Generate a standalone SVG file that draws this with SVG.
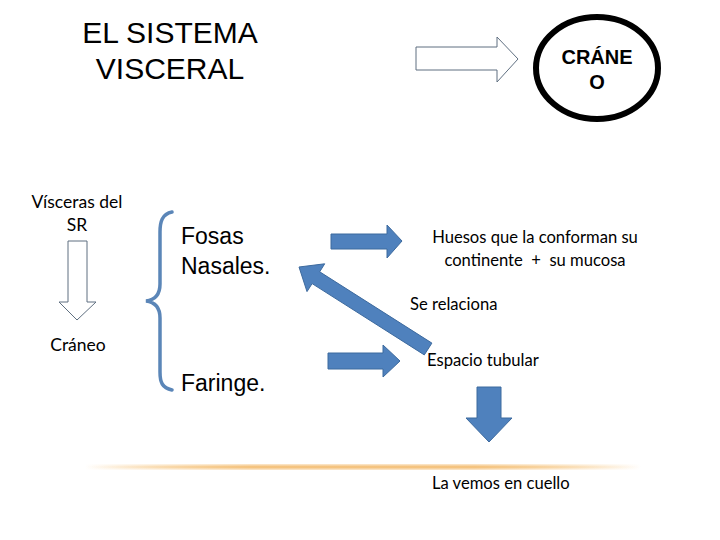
<svg xmlns="http://www.w3.org/2000/svg" width="720" height="540" viewBox="0 0 720 540">
<defs>
<style>
.title{font-family:"Liberation Sans",Arial,sans-serif;font-size:30px;fill:#000;text-anchor:middle}
.big{font-family:"Liberation Sans",Arial,sans-serif;font-size:23px;fill:#000}
.cal{font-family:Lato,"Open Sans",sans-serif;font-size:17.5px;fill:#000}
.sm{font-size:16.6px}
.mid{text-anchor:middle}
.blue{fill:#4f81bd;stroke:#3d6a9e;stroke-width:1}
.outline{fill:#fff;stroke:#5f6f80;stroke-width:1}
</style>
<linearGradient id="gl" x1="0" x2="1" y1="0" y2="0">
<stop offset="0" stop-color="#f4b860" stop-opacity="0"/>
<stop offset="0.3" stop-color="#f4c078" stop-opacity="0.9"/>
<stop offset="0.7" stop-color="#f4c078" stop-opacity="0.9"/>
<stop offset="1" stop-color="#f4b860" stop-opacity="0"/>
</linearGradient>
</defs>
<rect width="720" height="540" fill="#fff"/>

<g id="title">
<text class="title" x="170" y="43">EL SISTEMA</text>
<text class="title" x="170" y="79">VISCERAL</text>
</g>

<g id="craneo-circle">
<ellipse cx="597" cy="68" rx="61" ry="51" fill="#fff" stroke="#000" stroke-width="6"/>
<text x="597" y="64" font-family="Liberation Sans,Arial,sans-serif" font-weight="bold" font-size="20" text-anchor="middle">CRÁNE</text>
<text x="597" y="89" font-family="Liberation Sans,Arial,sans-serif" font-weight="bold" font-size="20" text-anchor="middle">O</text>
</g>

<g id="visceras">
<text class="cal mid" x="77" y="208">Vísceras del</text>
<text class="cal mid" x="77" y="231">SR</text>
</g>

<g id="craneo-label">
<text class="cal mid" x="78" y="351">Cráneo</text>
</g>

<g id="fosas">
<text class="big" x="181" y="244">Fosas</text>
<text class="big" x="181" y="274">Nasales.</text>
</g>

<g id="faringe">
<text class="big" x="181" y="391">Faringe.</text>
</g>

<g id="huesos">
<text class="cal sm mid" x="535" y="243">Huesos que la conforman su</text>
<text class="cal sm mid" x="535" y="266" xml:space="preserve">continente  +  su mucosa</text>
</g>

<g id="se-relaciona">
<text class="cal sm" x="410" y="310">Se relaciona</text>
</g>

<g id="espacio">
<text class="cal sm" x="427" y="366">Espacio tubular</text>
</g>

<g id="cuello">
<text class="cal sm" x="432" y="489">La vemos en cuello</text>
</g>

<g id="connectors">
<polygon class="outline" points="416,47 497,47 497,37 518,59 497,82 497,70 416,70"/>
<polygon class="outline" points="68,241 87,241 87,302 96,302 77,320 59,302 68,302"/>
<path d="M172,212 C162,214 160,222 160,232 L160,284 C160,295 154,300 146,301 C154,302 160,307 160,318 L160,372 C160,382 162,388 172,390" fill="none" stroke="#5b86b8" stroke-width="3.5" stroke-linecap="round"/>
<polygon class="blue" points="331,234 387,234 387,225 402,241 387,258 387,249 331,249"/>
<polygon class="blue" points="299,267 324.7,263.8 319.7,271.8 431.9,343.1 424.3,354.9 312.1,283.6 307,291.6"/>
<polygon class="blue" points="328,353 383,353 383,345 400,361 383,377 383,369 328,369"/>
<polygon class="blue" points="477,387 501,387 501,418 512,418 489,442 466,418 477,418"/>
</g>

<g id="rule">
<rect x="85" y="464" width="556" height="6" fill="url(#gl)" opacity="0.5"/>
<rect x="85" y="465.5" width="556" height="3" fill="url(#gl)"/>
</g>
</svg>
